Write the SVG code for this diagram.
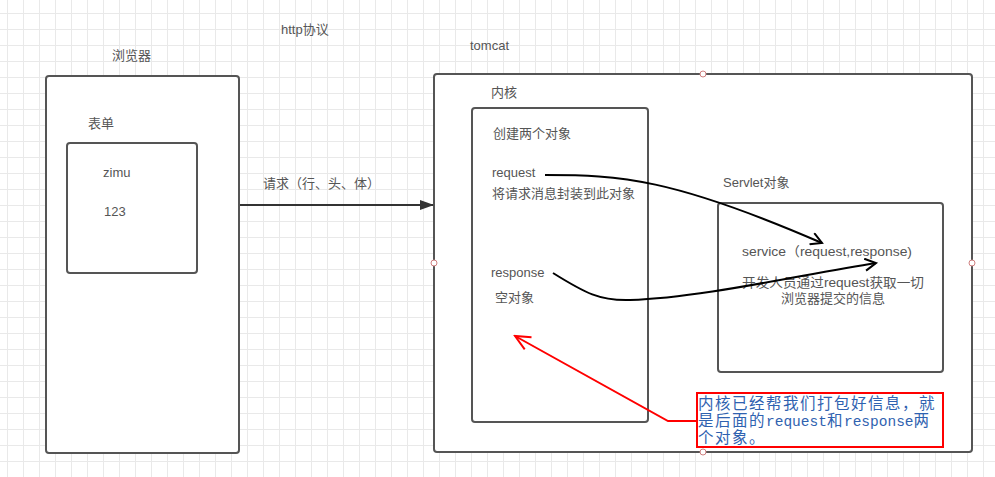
<svg xmlns="http://www.w3.org/2000/svg" width="995" height="477" viewBox="0 0 995 477">
<defs>
<pattern id="grid" width="16" height="16" patternUnits="userSpaceOnUse" x="7" y="13">
<path d="M0 0.5H16M0.5 0V16" stroke="#e9e9e9" stroke-width="1" fill="none"/>
</pattern>
<marker id="fillArrow" viewBox="0 0 14 10" refX="13" refY="5" markerWidth="14" markerHeight="10" markerUnits="userSpaceOnUse" orient="auto">
<path d="M0 0L14 5L0 10Z" fill="#333"/>
</marker>
<marker id="openArrow" viewBox="0 0 14 14" refX="12" refY="7" markerWidth="14" markerHeight="14" markerUnits="userSpaceOnUse" orient="auto">
<path d="M1 1L12 7L1 13" fill="none" stroke="#000" stroke-width="2"/>
</marker>
<marker id="redArrow" viewBox="0 0 18 18" refX="16" refY="9" markerWidth="18" markerHeight="18" markerUnits="userSpaceOnUse" orient="auto">
<path d="M1 2L16 9L1 16" fill="none" stroke="#f00" stroke-width="2"/>
</marker>
</defs>
<style>
.box{fill:#fff;stroke:#555;stroke-width:2}
.t{font-family:"Liberation Sans","Noto Sans CJK SC",sans-serif;font-size:13px;fill:#555}
.note{font-family:"Noto Sans CJK SC",serif;font-size:15.5px;letter-spacing:1.5px;fill:#2f62b0}
.lat{font-family:"Liberation Mono",monospace;font-size:14.5px;letter-spacing:0}
.handle{fill:#fff;stroke:#d08080;stroke-width:1}
.conn{fill:none;stroke:#000;stroke-width:2}
</style>
<rect width="995" height="477" fill="#fff"/>
<rect width="995" height="477" fill="url(#grid)"/>

<text class="t" x="281" y="34">http协议</text>

<g id="browser">
<rect class="box" x="46" y="76" width="193" height="377" rx="3"/>
<text class="t" x="112" y="60">浏览器</text>
<text class="t" x="88" y="128">表单</text>
</g>
<g id="form">
<rect class="box" x="67" y="143" width="130" height="130" rx="3"/>
<text class="t" x="103" y="177">zimu</text>
<text class="t" x="104" y="216">123</text>
</g>

<g id="tomcat">
<rect class="box" x="434" y="74" width="538" height="378" rx="3"/>
<text class="t" x="470" y="50">tomcat</text>
<text class="t" x="491" y="97">内核</text>
</g>
<g id="kernel">
<rect class="box" x="472" y="108" width="176" height="314" rx="3"/>
<text class="t" x="493" y="138">创建两个对象</text>
<text class="t" x="492" y="177">request</text>
<text class="t" x="492" y="198">将请求消息封装到此对象</text>
<text class="t" x="491" y="277">response</text>
<text class="t" x="495" y="302">空对象</text>
</g>
<g id="servlet">
<rect class="box" x="718" y="203" width="225" height="169" rx="3"/>
<text class="t" x="723" y="187">Servlet对象</text>
<text class="t" x="742" y="256" textLength="170" lengthAdjust="spacingAndGlyphs">service（request,response)</text>
<text class="t" x="742" y="287" textLength="182" lengthAdjust="spacingAndGlyphs">开发人员通过request获取一切</text>
<text class="t" x="833" y="303" text-anchor="middle">浏览器提交的信息</text>
</g>
<g id="note">
<rect x="697" y="393" width="246" height="54" fill="#fff" stroke="#f00" stroke-width="2"/>
<text class="note" x="698" y="409">内核已经帮我们打包好信息，就</text>
<text class="note" x="698" y="426">是后面的<tspan class="lat">request</tspan>和<tspan class="lat">response</tspan>两</text>
<text class="note" x="698" y="443">个对象。</text>
</g>

<g id="connectors">
<line x1="240" y1="205" x2="433" y2="205" stroke="#333" stroke-width="2" marker-end="url(#fillArrow)"/>
<text class="t" x="263" y="188">请求（行、头、体）</text>
<path class="conn" d="M545 175C620 175 672 178 822 243" marker-end="url(#openArrow)"/>
<path class="conn" d="M553 273C585 293 600 301 630 300C700 298 800 275 876 263" marker-end="url(#openArrow)"/>
<path d="M697 421H668L515 336" fill="none" stroke="#f00" stroke-width="2" marker-end="url(#redArrow)"/>
</g>

<g id="handles">
<circle class="handle" cx="703" cy="74" r="3"/>
<circle class="handle" cx="434" cy="263" r="3"/>
<circle class="handle" cx="972" cy="263" r="3"/>
<circle class="handle" cx="703" cy="452" r="3"/>
</g>
</svg>
